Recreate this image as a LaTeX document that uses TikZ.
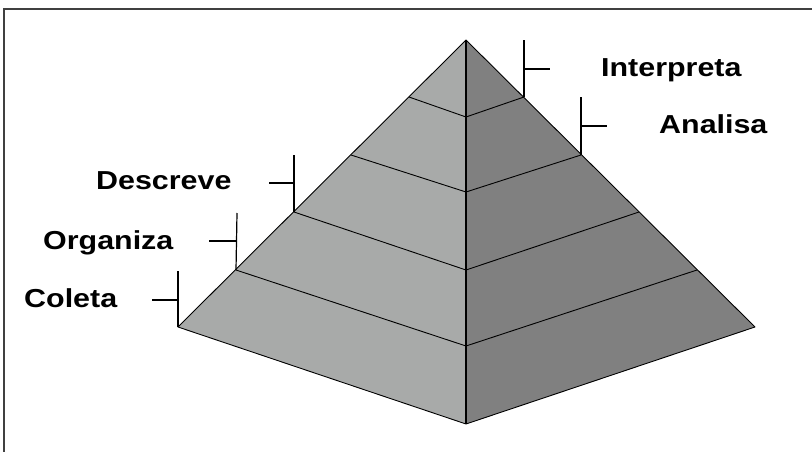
\documentclass[tikz,border=0pt]{standalone}
\usepackage{fontspec}
\newfontfamily\labfont[FakeStretch=1.17]{Liberation Sans Bold}
\begin{document}
\begin{tikzpicture}[x=1pt,y=-1pt,
  edge/.style={draw=black,line width=0.9pt,line join=round},
  ctr/.style={draw=black,line width=1.5pt},
  tick/.style={draw=black,line width=1.2pt},
  lab/.style={anchor=base west,inner sep=0pt,font=\labfont\fontsize{26}{28}\selectfont},
  frame/.style={draw=black!75,line width=1.6pt}]
\useasboundingbox (0,0) rectangle (812,452);
% frame
\coordinate (fb) at (4,452);
\coordinate (fc) at (4,9);
\coordinate (fr) at (812,9);
\draw[frame] (fb) -- (fc) -- (fr);
% pyramid points
\coordinate (apex) at (466,40);
\coordinate (l1) at (409,97);
\coordinate (l2) at (351,155);
\coordinate (l3) at (294,212);
\coordinate (l4) at (236,270);
\coordinate (lb) at (178,327);
\coordinate (r1) at (524,97);
\coordinate (r2) at (581,155);
\coordinate (r3) at (639,212);
\coordinate (r4) at (697,270);
\coordinate (rb) at (755,327);
\coordinate (c1) at (466,117);
\coordinate (c2) at (466,192);
\coordinate (c3) at (466,270);
\coordinate (c4) at (466,346);
\coordinate (cb) at (466,424);
% faces
\fill[fill={rgb,255:red,168;green,170;blue,169}] (apex) -- (lb) -- (cb) -- cycle;
\fill[fill={rgb,255:red,128;green,128;blue,128}] (apex) -- (rb) -- (cb) -- cycle;
% outline and level lines
\draw[edge] (apex) -- (lb) -- (cb) -- (rb) -- cycle;
\draw[edge] (l1) -- (c1) -- (r1);
\draw[edge] (l2) -- (c2) -- (r2);
\draw[edge] (l3) -- (c3) -- (r3);
\draw[edge] (l4) -- (c4) -- (r4);
\draw[ctr] (apex) -- (cb);
% label ticks
\coordinate (t1) at (524,40);  \coordinate (t1m) at (524,69);  \coordinate (t1e) at (550,69);
\coordinate (t2) at (581,97);  \coordinate (t2m) at (581,126); \coordinate (t2e) at (607,126);
\coordinate (t3) at (294,155); \coordinate (t3m) at (294,183); \coordinate (t3e) at (269,183);
\coordinate (t4) at (237,213); \coordinate (t4m) at (237,241); \coordinate (t4e) at (209,241);
\coordinate (t5) at (178,271); \coordinate (t5m) at (178,300); \coordinate (t5e) at (152,300);
\draw[tick] (r1) -- (t1); \draw[tick] (t1m) -- (t1e);
\draw[tick] (r2) -- (t2); \draw[tick] (t2m) -- (t2e);
\draw[tick] (l3) -- (t3); \draw[tick] (t3m) -- (t3e);
\draw[tick] (l4) -- (t4); \draw[tick] (t4m) -- (t4e);
\draw[tick] (lb) -- (t5); \draw[tick] (t5m) -- (t5e);
% labels
\node[lab] (interpreta) at (601,77) {Interpreta};
\node[lab] (analisa) at (659,133) {Analisa};
\node[lab] (descreve) at (96,189) {Descreve};
\node[lab] (organiza) at (43,249) {Organiza};
\node[lab] (coleta) at (24,307) {Coleta};
\end{tikzpicture}
\end{document}
